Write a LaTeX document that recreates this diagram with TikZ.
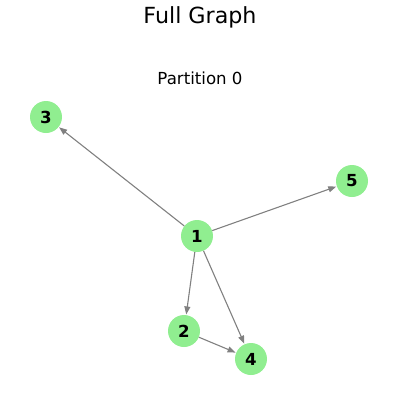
\documentclass[tikz,border=0pt]{standalone}
\usepackage{fontspec}
\setmainfont{DejaVu Sans}
\usetikzlibrary{arrows.meta}
\begin{document}
\begin{tikzpicture}[x=1pt,y=-1pt,
  vtx/.style={circle,fill={rgb,255:red,144;green,238;blue,144},draw=none,minimum size=32pt,inner sep=0pt,font=\fontsize{16.6}{18}\selectfont\bfseries},
  edge/.style={draw={rgb,255:red,128;green,128;blue,128},line width=1.1pt,-{Triangle[length=8pt,width=6pt]},shorten >=0.5pt}]
\useasboundingbox (0,0) rectangle (400,400);
\node[font=\fontsize{22.2}{24}\selectfont] (title) at (200,17) {Full Graph};
\node[font=\fontsize{16.6}{18}\selectfont] (sub) at (200,78) {Partition 0};
\node[vtx] (n3) at (46,117) {3};
\node[vtx] (n5) at (352,181) {5};
\node[vtx] (n1) at (197,236) {1};
\node[vtx] (n2) at (184,331) {2};
\node[vtx] (n4) at (251,359) {4};
\draw[edge] (n1) -- (n3);
\draw[edge] (n1) -- (n5);
\draw[edge] (n1) -- (n2);
\draw[edge] (n1) -- (n4);
\draw[edge] (n2) -- (n4);
\end{tikzpicture}
\end{document}
